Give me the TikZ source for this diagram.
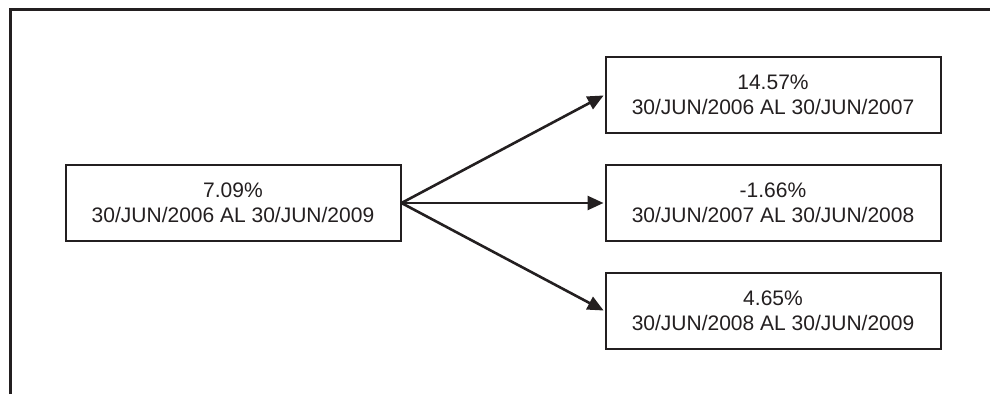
\documentclass[tikz,border=0pt]{standalone}
\usepackage{fontspec}
\setmainfont{Liberation Sans}
\usepackage{tikz}
\usetikzlibrary{arrows.meta}
\definecolor{ink}{HTML}{231F20}
\newcommand{\BOXW}[0]{335pt}
\newcommand{\BOXH}[0]{76pt}

\begin{document}
\begin{tikzpicture}[x=1pt, y=1pt,
    tasa/.style={draw=ink, line width=2pt, fill=white, text=ink,
      minimum width=\BOXW, minimum height=\BOXH, align=center,
      font=\fontsize{21}{25}\selectfont, inner sep=0pt},
    flecha/.style={draw=ink, line width=2.6pt,
      -{Triangle[length=16pt, width=14pt]}, shorten >=1pt}]

  \newcommand\XL{233}
  \newcommand\XR{773}

  \useasboundingbox (0, 0) rectangle (990, 394);

  %% frame: left side and top only
  \draw[ink, line width=3pt] (10, 0) -- (10, 384.5) -- (990, 384.5);

  %% whole period
  \node[tasa] (total) at (\XL, 191) {7.09\%\\30/JUN/2006 AL 30/JUN/2009};

  %% yearly periods
  \node[tasa] (anio1) at (\XR, 299) {14.57\%\\30/JUN/2006 AL 30/JUN/2007};
  \node[tasa] (anio2) at (\XR, 191) {-1.66\%\\30/JUN/2007 AL 30/JUN/2008};
  \node[tasa] (anio3) at (\XR,  83) {4.65\%\\30/JUN/2008 AL 30/JUN/2009};

  \draw[flecha] (total.east) -- (anio1.west); %% 2006 - 2007
  \draw[flecha] (total.east) -- (anio2.west); %% 2007 - 2008
  \draw[flecha] (total.east) -- (anio3.west); %% 2008 - 2009

\end{tikzpicture}
\end{document}
